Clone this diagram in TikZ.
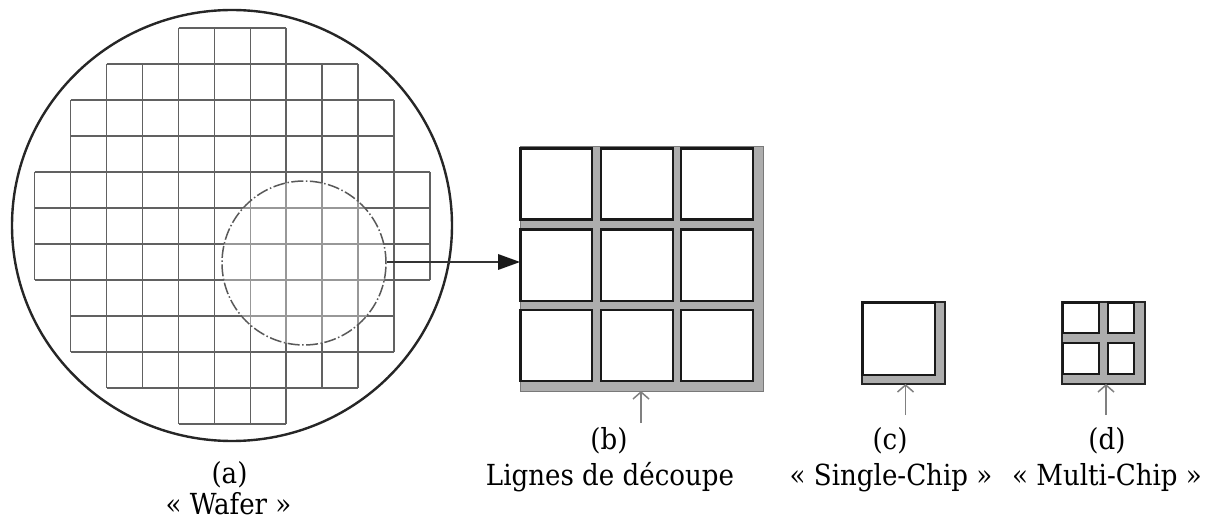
\documentclass[tikz,border=0pt]{standalone}
\usepackage{fontspec}
\setmainfont{DejaVu Serif Condensed}
\usetikzlibrary{arrows.meta,shapes.geometric}
\definecolor{cutgray}{gray}{0.68}
\definecolor{gridgray}{gray}{0.38}
\tikzset{
 waferoutline/.style={draw=black!85,line width=2.4pt,ellipse,minimum width=440pt,minimum height=431pt,inner sep=0pt},
 gridline/.style={draw=gridgray,line width=1.4pt},
 zoomring/.style={draw=black!65,line width=1.5pt,circle,minimum size=164pt,inner sep=0pt,dash pattern=on 12pt off 2.5pt on 1.5pt off 2.5pt},
 panel/.style={fill=cutgray,draw=cutgray!70!black,line width=1pt,inner sep=0pt},
 panelk/.style={fill=cutgray,draw=black!85,line width=2.4pt,inner sep=0pt},
 die/.style={draw=black!90,fill=white,line width=2.8pt},
 cutarrow/.style={draw=black!50,line width=1.5pt,-{Straight Barb[length=7pt,width=16pt]}},
 labeltext/.style={font=\fontsize{29}{29}\selectfont,inner sep=0pt,anchor=base},
}
\begin{document}
\begin{tikzpicture}[x=1pt,y=-1pt]
\useasboundingbox (0,0) rectangle (1208,521);
\fill[white] (0,0) rectangle (1208,521);
% wafer
\node[waferoutline] (wafer) at (232,225.5) {};
\foreach \xa/\xb/\y in {178.5/286/28,106.5/358/64,70.5/394/100,70.5/394/136,34.5/430/172,34.5/430/208,34.5/430/244,34.5/430/280,70.5/394/316,70.5/394/352,106.5/358/388,178.5/286/424}{
  \draw[gridline] (\xa,\y) -- (\xb,\y);
}
\foreach \x/\ya/\yb in {34.5/172/280,70.5/100/352,106.5/64/388,142.5/64/388,178.5/28/424,214.5/28/424,250.5/28/424,286/28/424,322/64/388,358/64/388,394/100/352,430/172/280}{
  \draw[gridline] (\x,\ya) -- (\x,\yb);
}
% ring interior washed out
\begin{scope}
\clip (304,263) circle (82);
\fill[white,opacity=.35] (222,181) rectangle (386,345);
\end{scope}
\node[zoomring] (ring) at (304,263) {};
% panel b
\node[panel,minimum width=243pt,minimum height=244pt] (pb) at (641.5,269) {};
\foreach \n/\xa/\xb in {1/520.5/592,2/601/673,3/681/753}{
 \foreach \m/\ya/\yb in {1/148.5/219.5,2/229.5/301,3/310/381}{
  \draw[die] (\xa,\ya) rectangle (\xb,\yb);
 }
}
\coordinate (pbleft) at (520,262);
\draw[draw=black!80,line width=1.4pt] (ring.east |- pbleft) -- (500,262);
\fill[black!90] (pbleft) -- (498,254) -- (498,270) -- cycle;
\coordinate (bfoot) at (641,423);
\draw[cutarrow] (bfoot) -- (641,391);
% panel c
\node[panelk,minimum width=83pt,minimum height=82pt] (pc) at (903.5,343) {};
\draw[die] (862.5,302.5) rectangle (935,375);
\coordinate (cfoot) at (905.5,415);
\draw[cutarrow] (cfoot) -- (905.5,384);
% panel d
\node[panelk,minimum width=83pt,minimum height=82pt] (pd) at (1103.5,343) {};
\foreach \xa/\xb in {1063/1099,1108/1134}{
 \foreach \ya/\yb in {302.5/333,343/374}{
  \draw[die] (\xa,\ya) rectangle (\xb,\yb);
 }
}
\coordinate (dfoot) at (1106,415);
\draw[cutarrow] (dfoot) -- (1106,384);
% labels
\node[labeltext] (la) at (229.5,483) {(a)};
\node[labeltext] (la2) at (228.5,514) {« Wafer »};
\node[labeltext] (lb) at (609,449) {(b)};
\node[labeltext] (lb2) at (610,485) {Lignes de découpe};
\node[labeltext] (lc) at (890,449) {(c)};
\node[labeltext] (lc2) at (891,485) {« Single-Chip »};
\node[labeltext] (ld) at (1107,449) {(d)};
\node[labeltext] (ld2) at (1107,485) {« Multi-Chip »};
\end{tikzpicture}
\end{document}
